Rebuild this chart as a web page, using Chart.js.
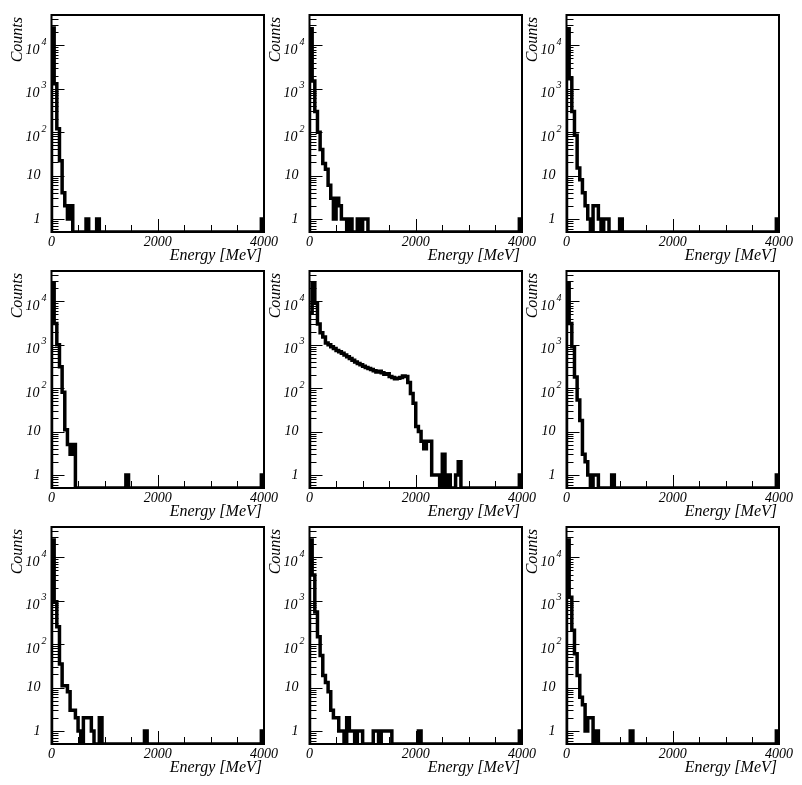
<!DOCTYPE html>
<html>
<head>
<meta charset="utf-8">
<script src="https://cdn.jsdelivr.net/npm/chart.js@4"></script>
<style>
  body { margin: 0; background: #fff; }
  #wrap { position: relative; width: 802px; height: 785px; }
  .pad { position: absolute; }
</style>
</head>
<body>
<div id="wrap"></div>
<script>
// histogram binning (MeV)
const binWidth = 50;
const nBins = 80;
const xMin = 0, xMax = 4000;
const yMin = 0.5, yMax = 5e4;

// axis ticks and labels
const xMajor = [0, 2000, 4000];
const xMinor = [500, 1000, 1500, 2500, 3000, 3500];
const xLabels = ['0', '2000', '4000'];
const yMajor = [1, 10, 100, 1000, 10000];
const yBase = ['1', '10', '10', '10', '10'];
const yExp = ['', '', '2', '3', '4'];
const xTitle = 'Energy [MeV]';
const yTitle = 'Counts';

// counts per 50 MeV bin, starting at 0 MeV (rest of the bins are empty)
const counts1 = [25000, 1300, 120, 22, 4, 2, 1, 2, 0, 0, 0, 0, 0, 1, 0, 0, 0, 1];
const counts2 = [24000, 1500, 300, 100, 40, 19, 14, 6, 3, 1, 3, 2, 1, 1, 0, 1, 0, 0, 1, 0, 1, 1];
const counts3 = [24000, 1700, 300, 85, 15, 8, 4, 2, 1, 0, 2, 2, 1, 0, 1, 1, 0, 0, 0, 0, 1];
const counts4 = [26000, 3100, 1000, 310, 80, 11, 5, 3, 5, 0, 0, 0, 0, 0, 0, 0, 0, 0, 0, 0,
                 0, 0, 0, 0, 0, 0, 0, 0, 1];
const counts5 = [5400, 26000, 9000, 3000, 1900, 1500, 1100, 1000, 900, 820,
                 740, 690, 640, 580, 530, 480, 440, 400, 370, 345,
                 320, 300, 285, 270, 250, 235, 245, 225, 210, 215,
                 185, 175, 165, 170, 175, 190, 185, 135, 75, 45,
                 13, 10, 6, 4, 6, 6, 1, 1, 1, 0,
                 3, 0, 1, 0, 0, 1, 2];
const counts6 = [26000, 3100, 900, 180, 53, 18, 3, 2, 1, 0, 1, 1, 0, 0, 0, 0, 0, 1];
const counts7 = [25000, 950, 250, 35, 11, 11, 8, 3, 3, 2, 1, 0, 2, 2, 2, 1, 0, 0, 2, 0,
                 0, 0, 0, 0, 0, 0, 0, 0, 0, 0, 0, 0, 0, 0, 0, 1];
const counts8 = [25000, 3900, 550, 148, 55, 19, 13, 8, 3, 2, 2, 1, 1, 0, 2, 1, 1, 0, 1, 1,
                 0, 0, 0, 0, 1, 1, 0, 1, 1, 1, 1, 0, 0, 0, 0, 0, 0, 0, 0, 0,
                 0, 1];
const counts9 = [25000, 1200, 210, 60, 19, 6, 4, 1, 2, 2, 0, 1, 0, 0, 0, 0, 0, 0, 0, 0,
                 0, 0, 0, 0, 1];
// last bin (3950-4000 MeV) of each pad
const lastBin = [1, 1, 1, 1, 1, 1, 1, 1, 1];

const pads = [counts1, counts2, counts3, counts4, counts5, counts6, counts7, counts8, counts9];

function histPoints(counts, last) {
    const c = counts.slice();
    while (c.length < nBins) c.push(0);
    c[nBins - 1] = last;
    const pts = [{ x: xMin, y: yMin }];
    c.forEach((v, i) => pts.push({ x: i * binWidth, y: v > 0 ? v : yMin }));
    pts.push({ x: xMax, y: yMin });
    return pts;
}

// ROOT-like frame, inward ticks and labels
const rootFrame = {
    id: 'rootFrame',
    afterDraw(chart) {
        const { ctx, chartArea: a, scales: { x, y } } = chart;
        ctx.save();
        ctx.strokeStyle = '#000';
        ctx.fillStyle = '#000';

        ctx.lineWidth = 1;
        ctx.beginPath();
        xMajor.forEach(v => {
            const px = Math.round(x.getPixelForValue(v)) + 0.5;
            ctx.moveTo(px, a.bottom); ctx.lineTo(px, a.bottom - 13);
        });
        xMinor.forEach(v => {
            const px = Math.round(x.getPixelForValue(v)) + 0.5;
            ctx.moveTo(px, a.bottom); ctx.lineTo(px, a.bottom - 7);
        });
        for (let d = 0.1; d < yMax; d *= 10) {
            for (let m = 1; m < 10; m++) {
                const v = d * m;
                if (v < yMin || v > yMax) continue;
                const py = Math.round(y.getPixelForValue(v)) + 0.5;
                ctx.moveTo(a.left, py);
                ctx.lineTo(a.left + (m === 1 ? 13 : 7), py);
            }
        }
        ctx.stroke();

        ctx.lineWidth = 2;
        ctx.strokeRect(a.left, a.top, a.right - a.left, a.bottom - a.top);

        // tick labels
        ctx.font = 'italic 14px "Liberation Serif"';
        ctx.textAlign = 'center';
        ctx.textBaseline = 'middle';
        xMajor.forEach((v, i) => ctx.fillText(xLabels[i], x.getPixelForValue(v), a.bottom + 10));

        yMajor.forEach((v, i) => {
            const py = y.getPixelForValue(v);
            ctx.font = 'italic 14px "Liberation Serif"';
            ctx.textAlign = 'right';
            if (yExp[i]) {
                ctx.fillText(yBase[i], a.left - 12, py + 5);
                ctx.font = 'italic 10px "Liberation Serif"';
                ctx.textAlign = 'left';
                ctx.fillText(yExp[i], a.left - 10, py - 3);
            } else {
                ctx.fillText(yBase[i], a.left - 11, py);
            }
        });

        // axis titles
        ctx.font = 'italic 16px "Liberation Serif"';
        ctx.textAlign = 'right';
        ctx.fillText(xTitle, a.right - 2, a.bottom + 24);
        ctx.save();
        ctx.translate(a.left - 34, a.top + 2);
        ctx.rotate(-Math.PI / 2);
        ctx.fillText(yTitle, 0, 0);
        ctx.restore();

        ctx.restore();
    }
};

const wrap = document.getElementById('wrap');
pads.forEach((counts, k) => {
    const col = k % 3, row = Math.floor(k / 3);
    const div = document.createElement('div');
    div.className = 'pad';
    div.style.left = (col * 257.5) + 'px';
    div.style.top = (row * 256) + 'px';
    const canvas = document.createElement('canvas');
    canvas.width = 290;
    canvas.height = 270;
    div.appendChild(canvas);
    wrap.appendChild(div);

    new Chart(canvas.getContext('2d'), {
        type: 'line',
        data: {
            datasets: [{
                data: histPoints(counts, lastBin[k]),
                stepped: 'before',
                borderColor: '#000',
                borderWidth: 3.5,
                borderJoinStyle: 'miter',
                pointRadius: 0,
                fill: false,
                clip: 0
            }]
        },
        options: {
            responsive: false,
            animation: false,
            events: [],
            layout: { padding: { left: 51.5, top: 15, right: 26, bottom: 38 } },
            plugins: { legend: { display: false }, tooltip: { enabled: false } },
            scales: {
                x: { type: 'linear', min: xMin, max: xMax, display: false },
                y: { type: 'logarithmic', min: yMin, max: yMax, display: false }
            }
        },
        plugins: [rootFrame]
    });
});
</script>
</body>
</html>
